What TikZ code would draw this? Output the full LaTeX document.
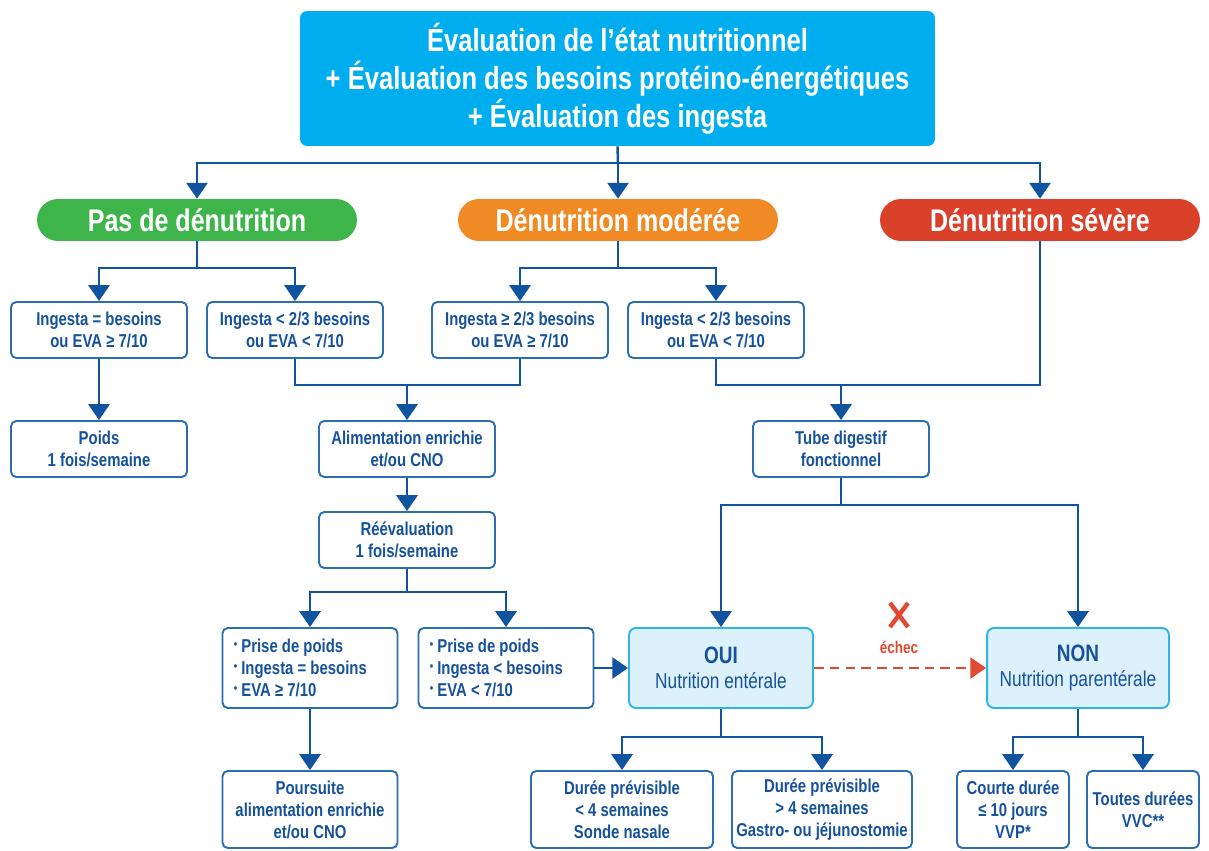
\documentclass[tikz,border=0pt]{standalone}
\usepackage{fontspec}
\setmainfont{Liberation Sans}[FakeStretch=0.8]
\usetikzlibrary{arrows.meta}

\definecolor{topblue}{RGB}{0,174,239}
\definecolor{pasgreen}{RGB}{61,181,74}
\definecolor{modorange}{RGB}{240,138,36}
\definecolor{sevred}{RGB}{217,65,43}
\definecolor{lineblue}{RGB}{16,84,160}
\definecolor{boxline}{RGB}{44,110,180}
\definecolor{txtblue}{RGB}{22,82,156}
\definecolor{lightfill}{RGB}{220,241,251}
\definecolor{lightline}{RGB}{46,182,234}
\definecolor{failred}{RGB}{226,72,50}

\tikzset{
  box/.style={draw=boxline, line width=1.1pt, rounded corners=3pt, fill=white,
    minimum width=3.52cm, minimum height=1.12cm, align=center, inner sep=1pt,
    text=txtblue, font=\bfseries\fontsize{10.6}{12.5}\selectfont},
  listbox/.style={box, minimum width=3.5cm, minimum height=1.6cm, text width=3.05cm, align=flush left},
  choice/.style={draw=lightline, fill=lightfill, line width=1.1pt, rounded corners=4pt,
    minimum height=1.6cm, align=center, text=txtblue, font=\fontsize{12.3}{14}\selectfont},
  pill/.style={rounded corners=0.42cm, minimum width=6.4cm, minimum height=0.84cm,
    text=white, font=\bfseries\fontsize{17.8}{19}\selectfont},
  link/.style={draw=lineblue, line width=1.4pt},
  arr/.style={link, -{Triangle[width=12pt,length=9pt]}},
}
\newcommand{\bul}{\raisebox{0.45ex}{\scriptsize\textbullet}\ }

\begin{document}
\begin{tikzpicture}[x=0.02cm, y=-0.02cm]
  \useasboundingbox (0,0) rectangle (1209,851);

  % evaluation
  \node[fill=topblue, rounded corners=4pt, minimum width=12.7cm, minimum height=2.7cm,
    text=white, align=center, font=\bfseries\fontsize{18.2}{21.5}\selectfont] (eval) at (617.5,78.5)
    {Évaluation de l’état nutritionnel\\+ Évaluation des besoins protéino-énergétiques\\+ Évaluation des ingesta};

  % stades
  \node[pill, fill=pasgreen] (pas) at (197,220) {Pas de dénutrition};
  \node[pill, fill=modorange] (mod) at (618,220) {Dénutrition modérée};
  \node[pill, fill=sevred] (sev) at (1040,220) {Dénutrition sévère};

  % ingesta
  \node[box] (ing1) at (99,330) {Ingesta = besoins\\ou EVA ≥ 7/10};
  \node[box] (ing2) at (295,330) {Ingesta < 2/3 besoins\\ou EVA < 7/10};
  \node[box] (ing3) at (520,330) {Ingesta ≥ 2/3 besoins\\ou EVA ≥ 7/10};
  \node[box] (ing4) at (716,330) {Ingesta < 2/3 besoins\\ou EVA < 7/10};

  \node[box] (poids) at (99,449) {Poids\\1 fois/semaine};
  \node[box] (alim) at (407,449) {Alimentation enrichie\\et/ou CNO};
  \node[box] (tube) at (841,449) {Tube digestif\\fonctionnel};
  \node[box] (reeval) at (407,540) {Réévaluation\\1 fois/semaine};

  % suivi
  \node[listbox] (gain) at (310,668) {\bul Prise de poids\\\bul Ingesta = besoins\\\bul EVA ≥ 7/10};
  \node[listbox] (loss) at (506,668) {\bul Prise de poids\\\bul Ingesta < besoins\\\bul EVA < 7/10};
  \node[choice, minimum width=3.68cm] (oui) at (721,668) {\textbf{\fontsize{13.5}{15}\selectfont OUI}\\Nutrition entérale};
  \node[choice, minimum width=3.64cm] (non) at (1078,668) {\textbf{\fontsize{13.5}{15}\selectfont NON}\\Nutrition parentérale};

  % durees
  \node[box, minimum width=3.5cm, minimum height=1.54cm] (suite) at (310,809.5) {Poursuite\\alimentation enrichie\\et/ou CNO};
  \node[box, minimum width=3.64cm, minimum height=1.54cm] (sonde) at (622,809.5) {Durée prévisible\\< 4 semaines\\Sonde nasale};
  \node[box, minimum width=3.6cm, minimum height=1.54cm] (gastro) at (822,809.5) {Durée prévisible\\> 4 semaines\\Gastro- ou jéjunostomie};
  \node[box, minimum width=2.24cm, minimum height=1.54cm] (vvp) at (1013,809.5) {Courte durée\\≤ 10 jours\\VVP*};
  \node[box, minimum width=2.24cm, minimum height=1.54cm] (vvc) at (1143,809.5) {Toutes durées\\VVC**};

  % echec
  \node[text=failred, font=\bfseries\fontsize{9.6}{11}\selectfont] (echec) at (899,647) {échec};
  \draw[failred, line width=2.5pt] (890,603) -- (908,627) (908,603) -- (890,627);

  % connecteurs
  \coordinate (j0) at (618,163);
  \coordinate (jp) at (197,268);
  \coordinate (jm) at (618,268);
  \coordinate (ja) at (407,385);
  \coordinate (jt) at (841,385);
  \coordinate (jr) at (407,592);
  \coordinate (jd) at (841,505);
  \coordinate (jo) at (721,737);
  \coordinate (jn) at (1078,737);

  \draw[link] (eval.south) -- (j0);
  \draw[arr] (j0) -- (mod.north);
  \draw[arr] (j0) -| (pas.north);
  \draw[arr] (j0) -| (sev.north);

  \draw[link] (pas.south) -- (jp);
  \draw[arr] (jp) -| (ing1.north);
  \draw[arr] (jp) -| (ing2.north);
  \draw[link] (mod.south) -- (jm);
  \draw[arr] (jm) -| (ing3.north);
  \draw[arr] (jm) -| (ing4.north);

  \draw[arr] (ing1) -- (poids);
  \draw[link] (ing2.south) |- (ja) -| (ing3.south);
  \draw[arr] (ja) -- (alim.north);
  \draw[link] (ing4.south) |- (jt) -| (sev.south);
  \draw[arr] (jt) -- (tube.north);

  \draw[arr] (alim) -- (reeval);
  \draw[link] (reeval.south) -- (jr);
  \draw[arr] (jr) -| (gain.north);
  \draw[arr] (jr) -| (loss.north);
  \draw[arr] (gain) -- (suite);
  \draw[arr] (loss) -- (oui);

  \draw[link] (tube.south) -- (jd);
  \draw[arr] (jd) -| (oui.north);
  \draw[arr] (jd) -| (non.north);
  \draw[failred, line width=1.4pt, dash pattern=on 5.5pt off 3.5pt, -{Triangle[width=12pt,length=9pt]}] (oui) -- (non);

  \draw[link] (oui.south) -- (jo);
  \draw[arr] (jo) -| (sonde.north);
  \draw[arr] (jo) -| (gastro.north);
  \draw[link] (non.south) -- (jn);
  \draw[arr] (jn) -| (vvp.north);
  \draw[arr] (jn) -| (vvc.north);
\end{tikzpicture}
\end{document}
